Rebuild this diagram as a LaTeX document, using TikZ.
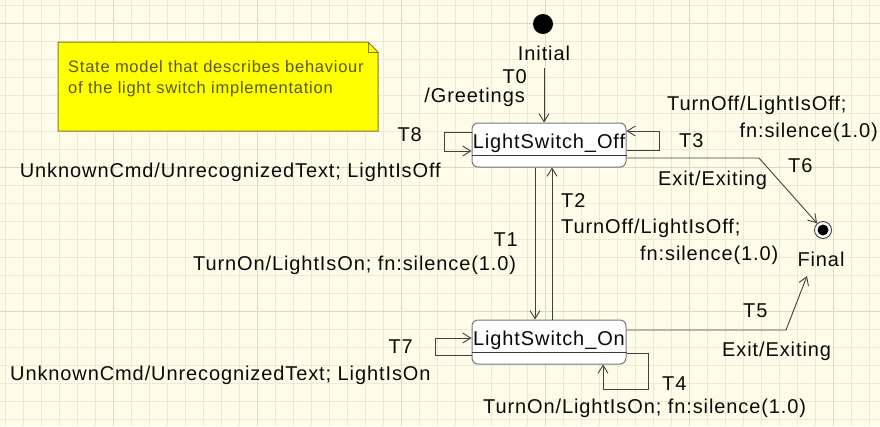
\documentclass[tikz,border=0pt]{standalone}
\usepackage{fontspec}
\setmainfont{Liberation Sans}
\newfontfamily\labelfont[LetterSpace=4.5]{Liberation Sans}
\usetikzlibrary{arrows.meta}

\definecolor{paper}{RGB}{255,253,234}
\definecolor{gridminor}{RGB}{236,234,214}
\definecolor{gridmajor}{RGB}{218,216,198}
\definecolor{wire}{RGB}{64,64,64}
\definecolor{noteyellow}{RGB}{255,255,0}
\definecolor{noteedge}{RGB}{128,120,48}
\definecolor{notetext}{RGB}{88,88,24}
\definecolor{stateedge}{RGB}{120,120,120}
\definecolor{ink}{RGB}{10,10,10}

\begin{document}
\begin{tikzpicture}[x=1pt,y=-1pt,
  lbl/.style={inner sep=0pt, text=ink, font=\labelfont\fontsize{20}{23}\selectfont},
  notelbl/.style={inner sep=0pt, text=notetext, font=\labelfont\fontsize{16.5}{20}\selectfont},
  arr/.style={draw=wire, line width=0.9pt, -{Straight Barb[length=8pt,width=10pt]}},
  statebox/.style={draw=stateedge, fill=white, line width=1pt, rounded corners=6pt,
                   minimum width=154pt, minimum height=44pt, inner sep=0pt},
  divider/.style={draw=ink!80, line width=1pt},
  notebox/.style={fill=noteyellow, draw=noteedge, line width=1pt}
]
% paper and drawing grid
\useasboundingbox (0,0) rectangle (880,426);
\fill[paper] (0,0) rectangle (880,426);
\foreach \g in {5,23,...,880} \draw[gridminor, line width=0.8pt] (\g,0) -- (\g,426);
\foreach \g in {5,23,...,426} \draw[gridminor, line width=0.8pt] (0,\g) -- (880,\g);
\foreach \g in {113,257,...,880} \draw[gridmajor, line width=1pt] (\g,0) -- (\g,426);
\foreach \g in {23,167,311} \draw[gridmajor, line width=1pt] (0,\g) -- (880,\g);

% comment note with folded corner
\draw[notebox] (58,42) -- (368,42) -- (378,52) -- (378,131) -- (58,131) -- cycle;
\draw[draw=noteedge, line width=0.6pt] (368,42) -- (368,52) -- (378,52);
\node[notelbl, anchor=base west] (note1) at (68,72) {State model that describes behaviour};
\node[notelbl, anchor=base west] (note2) at (68,93) {of the light switch implementation};

% pseudo states
\node[circle, fill=black, minimum size=20pt, inner sep=0pt] (init) at (543,24) {};
\node[lbl, anchor=base] (initname) at (544,60) {Initial};
\node[circle, draw=wire, fill=white, line width=0.9pt, minimum size=17pt, inner sep=0pt] (final) at (823,230) {};
\node[circle, fill=black, minimum size=11pt, inner sep=0pt] (finaldot) at (final) {};
\node[lbl, anchor=base] (finalname) at (821,266) {Final};
\coordinate (t5end) at (807,276);

% states
\node[statebox] (off) at (549,145) {};
\draw[divider] (off.west |- 0,155) -- (off.east |- 0,155);
\node[lbl, anchor=base] (offname) at (549,148) {LightSwitch\_Off};

\node[statebox] (on) at (549,342) {};
\draw[divider] (on.west |- 0,352) -- (on.east |- 0,352);
\node[lbl, anchor=base] (onname) at (549,345) {LightSwitch\_On};

% transitions
\draw[arr] ([yshift=-8pt]initname.south) -- (initname.south |- off.north);
\draw[arr] (off.west |- 0,132) -- (444,132) -- (444,151) -- (off.west |- 0,151);
\draw[arr] (off.east |- 0,150) -- (659,150) -- (659,131) -- (off.east |- 0,131);
\draw[arr] (off.south -| 535,0) -- (on.north -| 535,0);
\draw[arr] (on.north -| 552,0) -- (off.south -| 552,0);
\draw[arr] (on.west |- 0,355) -- (435,355) -- (435,338) -- (on.west |- 0,338);
\draw[arr] (on.east |- 0,353) -- (648,353) -- (648,389) -- (603,389) -- (on.south -| 603,0);
\draw[arr] (off.east |- 0,158) -- (759,158) -- (final);
\draw[arr] (on.east |- 0,330) -- (786,330) -- (t5end);

% transition labels
\node[lbl, anchor=base east] (t0) at (527,83) {T0};
\node[lbl, anchor=base east] (t0act) at (525,102) {/Greetings};
\node[lbl, anchor=base east] (t8) at (422,141) {T8};
\node[lbl, anchor=base east] (t8act) at (441,177) {UnknownCmd/UnrecognizedText; LightIsOff};
\node[lbl, anchor=base west] (t3) at (679,147) {T3};
\node[lbl, anchor=base west] (t3act1) at (667,110) {TurnOff/LightIsOff;};
\node[lbl, anchor=base east] (t3act2) at (878,137) {fn:silence(1.0)};
\node[lbl, anchor=base west] (t6) at (788,172) {T6};
\node[lbl, anchor=base west] (t6act) at (658,185) {Exit/Exiting};
\node[lbl, anchor=base west] (t2) at (561,207) {T2};
\node[lbl, anchor=base west] (t2act1) at (561,233) {TurnOff/LightIsOff;};
\node[lbl, anchor=base west] (t2act2) at (640,260) {fn:silence(1.0)};
\node[lbl, anchor=base east] (t1) at (518,246) {T1};
\node[lbl, anchor=base west] (t1act) at (193,270) {TurnOn/LightIsOn; fn:silence(1.0)};
\node[lbl, anchor=base west] (t5) at (743,317) {T5};
\node[lbl, anchor=base west] (t5act) at (722,356) {Exit/Exiting};
\node[lbl, anchor=base east] (t7) at (413,353) {T7};
\node[lbl, anchor=base west] (t7act) at (10,380) {UnknownCmd/UnrecognizedText; LightIsOn};
\node[lbl, anchor=base west] (t4) at (662,390) {T4};
\node[lbl, anchor=base west] (t4act) at (483,413) {TurnOn/LightIsOn; fn:silence(1.0)};
\end{tikzpicture}
\end{document}
